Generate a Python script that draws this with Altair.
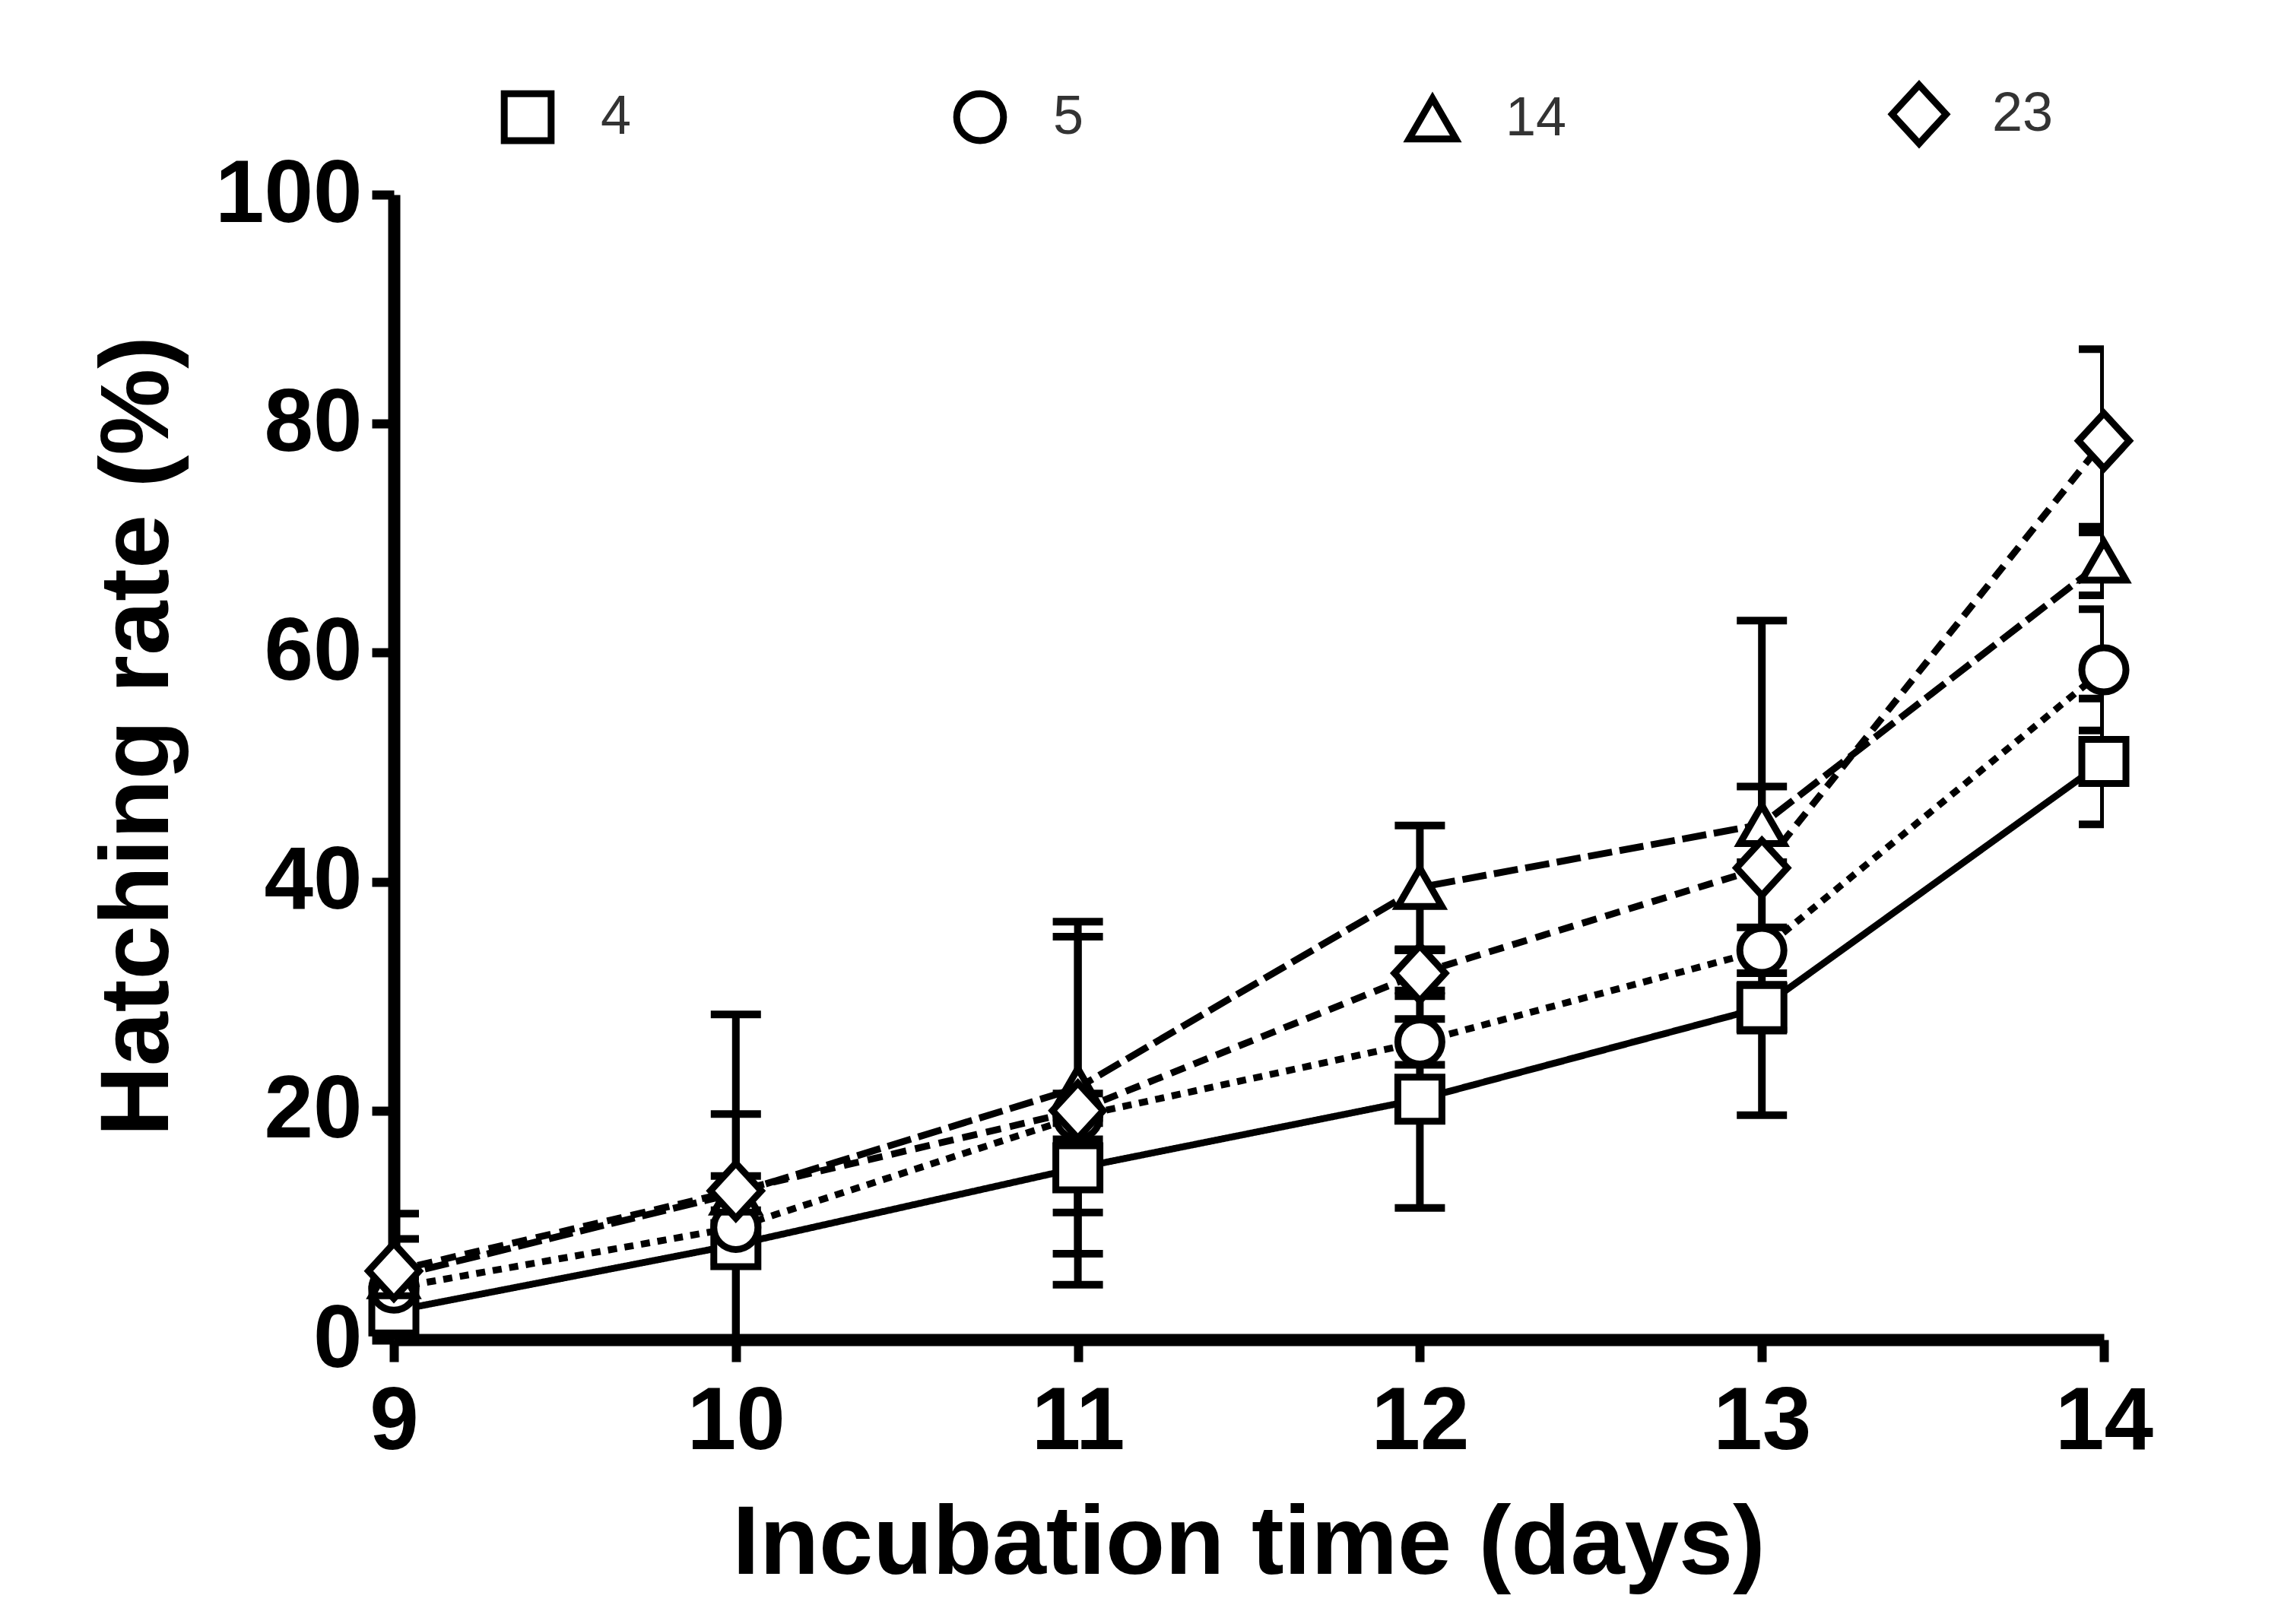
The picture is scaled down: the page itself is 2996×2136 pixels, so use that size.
import altair as alt
import pandas as pd

# hatching rate (%) by incubation day, one list per group, error = half bar length
days = [9, 10, 11, 12, 13, 14]
groups = ["4", "5", "14", "23"]

rate_4 = [2.5, 8.3, 15.0, 21.0, 29.0, 50.5]
err_4 = [1.0, 1.5, 3.9, 9.5, 2.0, 5.5]

rate_5 = [4.5, 9.8, 19.5, 26.0, 34.0, 58.5]
err_5 = [1.0, 9.9, 2.0, 2.0, 2.0, 5.3]

rate_14 = [5.5, 12.8, 22.0, 39.5, 45.0, 68.0]
err_14 = [3.3, 1.5, 14.5, 5.4, 3.3, 3.0]

rate_23 = [6.0, 13.0, 20.0, 32.0, 41.2, 78.5]
err_23 = [5.0, 15.4, 15.2, 2.0, 21.6, 8.0]

y_ticks = [0, 20, 40, 60, 80, 100]

rows = []
for g, means, errs in zip(groups, [rate_4, rate_5, rate_14, rate_23], [err_4, err_5, err_14, err_23]):
    for d, m, e in zip(days, means, errs):
        rows.append({"day": d, "group": g, "dash": g, "rate": m, "lo": m - e, "hi": m + e})
df = pd.DataFrame(rows)

FONT = "Liberation Sans"
# the diamond is drawn a bit larger than the other symbols
DIAMOND = "M0,-1.25L1.15,0L0,1.25L-1.15,0Z"

x_scale = alt.Scale(domain=[9, 14], nice=False, zero=False)
y_scale = alt.Scale(domain=[0, 100], nice=False)

x_axis = alt.Axis(values=days, format="d", title="Incubation time (days)",
                  titleFont=FONT, titleFontSize=128, titleFontWeight="bold", titleColor="black",
                  titleX=1124, titleY=307, titleBaseline="alphabetic", titleAlign="center",
                  labelFont=FONT, labelFontSize=116, labelFontWeight="bold", labelColor="black",
                  labelBaseline="alphabetic", labelPadding=114, labelFlush=False, labelOverlap=False,
                  labelLimit=1000,
                  tickSize=29, tickWidth=12, tickColor="black",
                  domainWidth=16, domainColor="black", grid=False)
y_axis = alt.Axis(values=y_ticks, title="Hatching rate (%)",
                  titleFont=FONT, titleFontSize=128, titleFontWeight="bold", titleColor="black",
                  titleX=-298, titleY=712, titleBaseline="alphabetic", titleAlign="center",
                  labelFont=FONT, labelFontSize=116, labelFontWeight="bold", labelColor="black",
                  labelBaseline="middle", labelPadding=13, labelFlush=False, labelOverlap=False,
                  labelLimit=1000,
                  tickSize=29, tickWidth=12, tickColor="black",
                  domainWidth=16, domainColor="black", grid=False)

base = alt.Chart(df)
x_enc = alt.X("day:Q", scale=x_scale, axis=x_axis)

bars = base.mark_rule(color="black", strokeWidth=10, clip=True).encode(
    x=x_enc,
    y=alt.Y("lo:Q", scale=y_scale, axis=y_axis),
    y2="hi:Q"
)

caps = base.transform_fold(["lo", "hi"], as_=["end", "val"]).mark_tick(
    orient="horizontal", size=66, thickness=10, color="black", opacity=1, clip=True
).encode(
    x=x_enc,
    y=alt.Y("val:Q", scale=y_scale, axis=y_axis)
)

# dash scale takes its domain from the data (sorted like groups) so that
# its hidden legend is not merged with the shape legend
lines = base.mark_line(color="black", strokeWidth=9).encode(
    x=x_enc,
    y=alt.Y("rate:Q", scale=y_scale, axis=y_axis),
    strokeDash=alt.StrokeDash("dash:N", sort=groups,
                              scale=alt.Scale(range=[[1, 0], [12, 10], [32, 10], [20, 12]]), legend=None)
)

# legend symbols take fill and stroke from the mark itself
points = base.mark_point(filled=False, color="black", fill="white", stroke="black", strokeWidth=9,
                         opacity=1, size=3364).encode(
    x=x_enc,
    y=alt.Y("rate:Q", scale=y_scale, axis=y_axis),
    shape=alt.Shape("group:N", title=None,
                    scale=alt.Scale(domain=groups, range=["square", "circle", "triangle-up", DIAMOND]),
                    legend=alt.Legend(orient="none", legendX=140, legendY=-142, direction="horizontal",
                                      columns=4, columnPadding=409, padding=0,
                                      labelFont=FONT, labelFontSize=72, labelColor="#333333", labelOffset=60,
                                      symbolSize=3800, symbolStrokeWidth=9, symbolOpacity=1))
)

chart = alt.layer(bars, caps, lines, points).properties(
    width=2249,
    height=1506,
    padding={"left": 510, "top": 248, "right": 200, "bottom": 360},
    autosize=alt.AutoSizeParams(type="none")
).configure_view(strokeWidth=0)

chart.save("out.html", embed_options={"renderer": "svg", "actions": False})
